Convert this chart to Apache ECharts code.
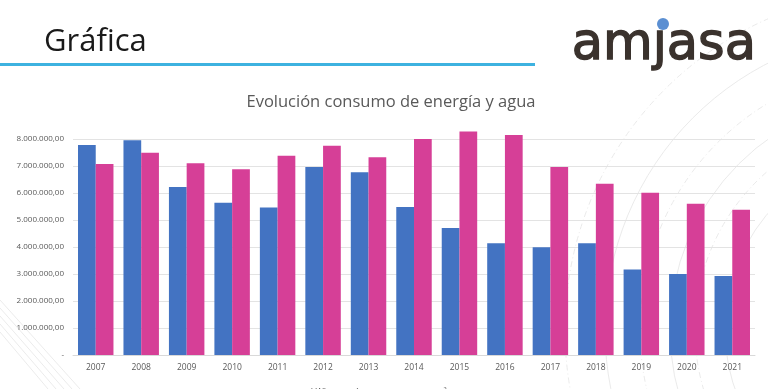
<!DOCTYPE html>
<html>
<head>
<meta charset="utf-8">
<script src="https://cdn.jsdelivr.net/npm/echarts@6/dist/echarts.min.js"></script>
<style>
html,body{margin:0;padding:0;background:#fff;}
#chart{width:768px;height:389px;}
</style>
</head>
<body>
<div id="chart"></div>
<script>
const years = ['2007','2008','2009','2010','2011','2012','2013','2014','2015','2016','2017','2018','2019','2020','2021'];
const energia = [7780000,7950000,6220000,5640000,5460000,6960000,6770000,5480000,4700000,4140000,3990000,4140000,3170000,3000000,2930000];
const agua = [7070000,7490000,7100000,6880000,7380000,7750000,7320000,8000000,8280000,8150000,6960000,6340000,6010000,5600000,5380000];
const seriesNames = ['kWh energía','m³ agua'];

function fmt(v){
  if(v===0) return '-';
  const s = Math.round(v).toString().replace(/\B(?=(\d{3})+(?!\d))/g,'.');
  return s + ',00';
}

const arcs = [];
const radii = [180,210,235,265,300,340];
radii.forEach((r,i)=>{
  arcs.push({type:'circle', shape:{cx:905, cy:330, r:r}, silent:true, z:-10,
    style:{fill:'none', stroke:'#e4e4e4', lineWidth:0.8, lineDash: i%2 ? [6,3,1,3] : null}});
});
[0,8,16,24,32].forEach(d=>{
  arcs.push({type:'line', shape:{x1:0, y1:300+d, x2:80-d, y2:389}, silent:true, z:-10,
    style:{stroke:'#e6e6e6', lineWidth:0.8}});
});

const chart = echarts.init(document.getElementById('chart'));
chart.setOption({
  animation:false,
  backgroundColor:'#ffffff',
  title:{text:'Evolución consumo de energía y agua', left:386, textAlign:'center', top:89,
    textStyle:{fontFamily:'Open Sans', fontSize:16.5, fontWeight:'normal', color:'#595959'}},
  legend:{bottom:-13, left:'center', itemWidth:7, itemHeight:7, itemGap:60,
    textStyle:{fontFamily:'Open Sans', fontSize:9, color:'#595959'}},
  grid:{left:73, right:13, top:139, bottom:34, containLabel:false},
  xAxis:{type:'category', data:years,
    axisLine:{show:true, lineStyle:{color:'#d9d9d9'}}, axisTick:{show:false},
    axisLabel:{fontFamily:'Open Sans', fontSize:8.5, color:'#595959', margin:8}},
  yAxis:{type:'value', min:0, max:8000000, interval:1000000,
    axisLine:{show:false}, axisTick:{show:false},
    splitLine:{lineStyle:{color:'#e3e3e3'}},
    axisLabel:{fontFamily:'Open Sans', fontSize:8, color:'#595959', margin:9, formatter:fmt}},
  series:[
    {name:seriesNames[0], type:'bar', data:energia, clip:false, barGap:'0%', barCategoryGap:'22%',
      itemStyle:{color:'#4373c2'}},
    {name:seriesNames[1], type:'bar', data:agua, clip:false,
      itemStyle:{color:'#d63f97'}}
  ],
  graphic:arcs.concat([
    {type:'text', left:44, top:27, z:10, style:{text:'Gráfica', fontFamily:'Open Sans', fontSize:31, fill:'#1a1a1a'}},
    {type:'rect', shape:{x:0, y:63, width:535, height:3}, z:10, style:{fill:'#3db2e0'}},
    {type:'text', left:571, top:20, z:10, style:{text:'am\u0237asa', fontFamily:'DejaVu Sans', fontSize:51, fill:'#3a322d', stroke:'#3a322d', lineWidth:1.4}},
    {type:'circle', shape:{cx:663, cy:24, r:6}, z:11, style:{fill:'#5b8fd2'}}
  ])
});
</script>
</body>
</html>
